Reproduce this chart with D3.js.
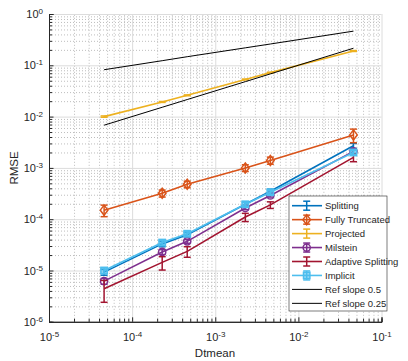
<!DOCTYPE html>
<html>
<head>
<meta charset="utf-8">
<script src="https://cdn.jsdelivr.net/npm/d3@7"></script>
<style>
  body { margin: 0; background: #fff; }
  text { font-family: "Liberation Sans", Arial, sans-serif; fill: #262626; }
</style>
</head>
<body>
<script>
// ---- data ----
var dtmean     = [4.6e-5, 2.3e-4, 4.6e-4, 2.3e-3, 4.6e-3, 4.6e-2];

var splitting  = [9.3e-6, 3.3e-5, 5.0e-5, 1.95e-4, 3.5e-4, 2.7e-3];
var splitErr   = [1.2e-6, 4e-6, 5e-6, 2e-5, 3.5e-5, 3e-4];
var truncated  = [1.5e-4, 3.2e-4, 4.8e-4, 1.0e-3, 1.4e-3, 4.4e-3];
var truncErr   = [3.8e-5, 5e-5, 7e-5, 1.5e-4, 2.2e-4, 1.3e-3];
var projected  = [1.0e-2, 1.93e-2, 2.6e-2, 5.3e-2, 7.2e-2, 1.9e-1];
var projErr    = [3e-4, 4e-4, 5e-4, 1e-3, 1.3e-3, 4e-3];
var milstein   = [6.2e-6, 2.3e-5, 3.7e-5, 1.65e-4, 2.9e-4, 2.1e-3];
var milErr     = [8e-7, 2.5e-6, 3e-6, 1.2e-5, 2e-5, 2e-4];
var adaptive   = [4.4e-6, 1.44e-5, 2.36e-5, 1.1e-4, 1.9e-4, 1.6e-3];
var adaptErr   = [2.0e-6, 4.2e-6, 5.5e-6, 2.0e-5, 2.8e-5, 2.8e-4];
var implicit   = [1.0e-5, 3.5e-5, 5.2e-5, 1.95e-4, 3.35e-4, 2.0e-3];
var implErr    = [1.3e-6, 4e-6, 5e-6, 1.8e-5, 3e-5, 2e-4];
var refHalf    = [6.8e-3, 1.52e-2, 2.15e-2, 4.8e-2, 6.8e-2, 2.15e-1];
var refQuarter = [8.2e-2, 1.23e-1, 1.47e-1, 2.19e-1, 2.6e-1, 4.63e-1];

var xExps = [-5, -4, -3, -2, -1];
var yExps = [-6, -5, -4, -3, -2, -1, 0];

var series = [
  { name: "Splitting",          vals: splitting, err: splitErr, color: "#0072BD", marker: null },
  { name: "Fully Truncated",    vals: truncated, err: truncErr, color: "#D95319", marker: "diamond" },
  { name: "Projected",          vals: projected, err: projErr,  color: "#EDB120", marker: null },
  { name: "Milstein",           vals: milstein,  err: milErr,   color: "#7E2F8E", marker: "circle" },
  { name: "Adaptive Splitting", vals: adaptive,  err: adaptErr, color: "#A2142F", marker: null },
  { name: "Implicit",           vals: implicit,  err: implErr,  color: "#4DBEEE", marker: "square" }
];
var refs = [
  { name: "Ref slope 0.5",  vals: refHalf },
  { name: "Ref slope 0.25", vals: refQuarter }
];

// ---- svg + scales ----
var width = 408, height = 361;
var svg = d3.select("body").append("svg")
    .attr("width", width)
    .attr("height", height);

var x = d3.scaleLog().domain([1e-5, 1e-1]).range([49, 381.5]);
var y = d3.scaleLog().domain([1e-6, 1]).range([321.8, 14]);

function minors(exps) {
  var out = [];
  exps.slice(0, -1).forEach(function(e) {
    for (var k = 2; k <= 9; k++) out.push(k * Math.pow(10, e));
  });
  return out;
}
var xMajor = xExps.map(function(e) { return Math.pow(10, e); }),
    yMajor = yExps.map(function(e) { return Math.pow(10, e); }),
    xMinor = minors(xExps),
    yMinor = minors(yExps);

// ---- grid ----
var grid = svg.append("g");
grid.append("g").attr("transform", "translate(0,321.8)")
    .call(d3.axisBottom(x).tickValues(xMinor).tickSize(-307.8).tickFormat(""))
    .call(function(g) { g.select(".domain").remove(); })
    .selectAll("line").attr("stroke", "#bdbdbd").attr("stroke-dasharray", "1,2");
grid.append("g").attr("transform", "translate(49,0)")
    .call(d3.axisLeft(y).tickValues(yMinor).tickSize(-332.5).tickFormat(""))
    .call(function(g) { g.select(".domain").remove(); })
    .selectAll("line").attr("stroke", "#bdbdbd").attr("stroke-dasharray", "1,2");
grid.append("g").attr("transform", "translate(0,321.8)")
    .call(d3.axisBottom(x).tickValues(xMajor).tickSize(-307.8).tickFormat(""))
    .call(function(g) { g.select(".domain").remove(); })
    .selectAll("line").attr("stroke", "#dcdcdc");
grid.append("g").attr("transform", "translate(49,0)")
    .call(d3.axisLeft(y).tickValues(yMajor).tickSize(-332.5).tickFormat(""))
    .call(function(g) { g.select(".domain").remove(); })
    .selectAll("line").attr("stroke", "#dcdcdc");

// ---- data ----
var line = d3.line()
    .x(function(d) { return x(d[0]); })
    .y(function(d) { return y(d[1]); });

function drawMarker(g, type, cx, cy, color) {
  if (type === "diamond") {
    g.append("path")
      .attr("d", "M" + cx + "," + (cy - 5) + "L" + (cx + 3.8) + "," + cy + "L" + cx + "," + (cy + 5) + "L" + (cx - 3.8) + "," + cy + "Z")
      .attr("fill", "none").attr("stroke", color).attr("stroke-width", 1.5);
  } else if (type === "circle") {
    g.append("circle").attr("cx", cx).attr("cy", cy).attr("r", 3.6)
      .attr("fill", "none").attr("stroke", color).attr("stroke-width", 1.5);
  } else if (type === "square") {
    g.append("rect").attr("x", cx - 3.2).attr("y", cy - 3.2).attr("width", 6.4).attr("height", 6.4)
      .attr("fill", color).attr("fill-opacity", 0.6).attr("stroke", color).attr("stroke-width", 1.5);
  }
}

series.forEach(function(s) {
  var pts = dtmean.map(function(d, i) { return [d, s.vals[i], s.err[i]]; });
  var g = svg.append("g");
  g.append("path").datum(pts)
    .attr("d", line)
    .attr("fill", "none")
    .attr("stroke", s.color)
    .attr("stroke-width", 1.6);
  pts.forEach(function(p) {
    var cx = x(p[0]), top = y(p[1] + p[2]), bot = y(Math.max(p[1] - p[2], 1e-9));
    g.append("line").attr("x1", cx).attr("x2", cx).attr("y1", top).attr("y2", bot)
      .attr("stroke", s.color).attr("stroke-width", 1.5);
    [top, bot].forEach(function(yy) {
      g.append("line").attr("x1", cx - 3.5).attr("x2", cx + 3.5).attr("y1", yy).attr("y2", yy)
        .attr("stroke", s.color).attr("stroke-width", 1.5);
    });
    drawMarker(g, s.marker, cx, y(p[1]), s.color);
  });
});

refs.forEach(function(r) {
  svg.append("path")
    .datum(dtmean.map(function(d, i) { return [d, r.vals[i]]; }))
    .attr("d", line)
    .attr("fill", "none")
    .attr("stroke", "#000")
    .attr("stroke-width", 1);
});

// ---- axes ----
function supLabels(sel, exps) {
  sel.selectAll(".tick text").each(function(d) {
    var e = Math.round(Math.log10(d));
    var t = d3.select(this);
    t.text("10").attr("font-size", 11);
    t.append("tspan").attr("dy", "-0.5em").attr("font-size", 8).text(e);
  });
}

var xAxis = svg.append("g").attr("transform", "translate(0,321.8)");
xAxis.append("g").call(d3.axisBottom(x).tickValues(xMinor).tickSize(-3).tickFormat(""));
xAxis.append("g").call(d3.axisBottom(x).tickValues(xMajor).tickSize(-4.5).tickPadding(11).tickFormat(function() { return "10"; }))
    .call(supLabels);
xAxis.selectAll(".domain").attr("stroke", "#262626");
xAxis.selectAll("line").attr("stroke", "#262626");
xAxis.selectAll("text").attr("font-family", null);

var yAxis = svg.append("g").attr("transform", "translate(49,0)");
yAxis.append("g").call(d3.axisLeft(y).tickValues(yMinor).tickSize(-3).tickFormat(""));
yAxis.append("g").call(d3.axisLeft(y).tickValues(yMajor).tickSize(-4.5).tickPadding(6).tickFormat(function() { return "10"; }))
    .call(supLabels);
yAxis.selectAll(".domain").attr("stroke", "#262626");
yAxis.selectAll("line").attr("stroke", "#262626");
yAxis.selectAll("text").attr("font-family", null);

svg.append("text")
    .attr("x", 215).attr("y", 357)
    .attr("text-anchor", "middle")
    .attr("font-size", 11.5)
    .text("Dtmean");

svg.append("text")
    .attr("transform", "translate(18,168) rotate(-90)")
    .attr("text-anchor", "middle")
    .attr("font-size", 11.5)
    .text("RMSE");

// ---- legend ----
var legend = svg.append("g");
legend.append("rect")
    .attr("x", 289).attr("y", 196).attr("width", 98).attr("height", 115)
    .attr("fill", "#fff").attr("stroke", "#262626").attr("stroke-width", 0.6);

var items = series.concat(refs.map(function(r) { return { name: r.name, color: "#000", ref: true }; }));
items.forEach(function(s, i) {
  var cy = 205.7 + i * 13.95;
  var g = legend.append("g");
  g.append("line").attr("x1", 292).attr("x2", 322).attr("y1", cy).attr("y2", cy)
    .attr("stroke", s.color).attr("stroke-width", s.ref ? 1 : 1.6);
  if (!s.ref) {
    g.append("line").attr("x1", 306.7).attr("x2", 306.7).attr("y1", cy - 4.5).attr("y2", cy + 4.5)
      .attr("stroke", s.color).attr("stroke-width", 1.5);
    [cy - 4.5, cy + 4.5].forEach(function(yy) {
      g.append("line").attr("x1", 303.2).attr("x2", 310.2).attr("y1", yy).attr("y2", yy)
        .attr("stroke", s.color).attr("stroke-width", 1.5);
    });
    drawMarker(g, s.marker, 306.7, cy, s.color);
  }
  g.append("text").attr("x", 325).attr("y", cy).attr("dy", "0.35em")
    .attr("font-size", 9.5).text(s.name);
});
</script>
</body>
</html>
